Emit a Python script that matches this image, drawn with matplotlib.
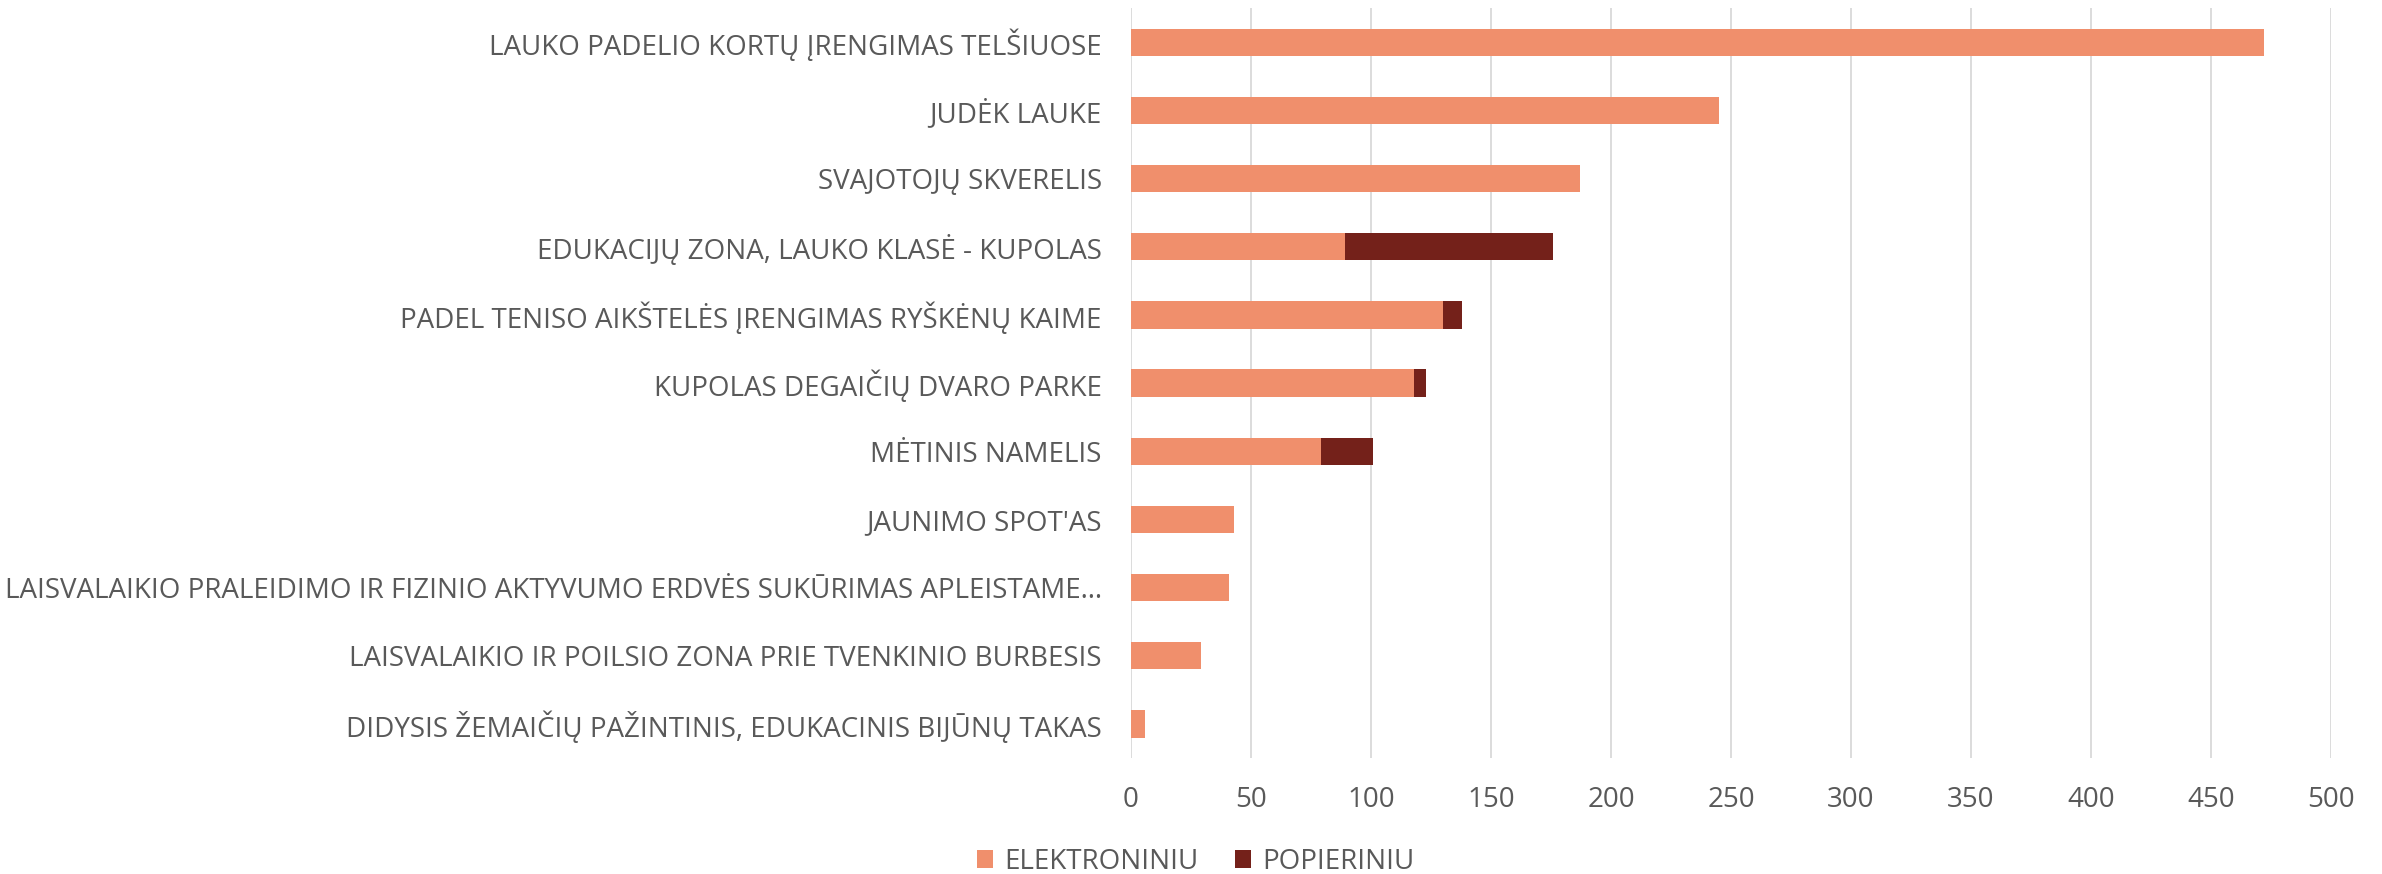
import numpy as np
import matplotlib.pyplot as plt

plt.rcParams['font.family'] = ['Open Sans', 'DejaVu Sans']

# Categories from top to bottom
projects = [
    'LAUKO PADELIO KORTŲ ĮRENGIMAS TELŠIUOSE',
    'JUDĖK LAUKE',
    'SVAJOTOJŲ SKVERELIS',
    'EDUKACIJŲ ZONA, LAUKO KLASĖ - KUPOLAS',
    'PADEL TENISO AIKŠTELĖS ĮRENGIMAS RYŠKĖNŲ KAIME',
    'KUPOLAS DEGAIČIŲ DVARO PARKE',
    'MĖTINIS NAMELIS',
    "JAUNIMO SPOT'AS",
    'LAISVALAIKIO PRALEIDIMO IR FIZINIO AKTYVUMO ERDVĖS SUKŪRIMAS APLEISTAME…',
    'LAISVALAIKIO IR POILSIO ZONA PRIE TVENKINIO BURBESIS',
    'DIDYSIS ŽEMAIČIŲ PAŽINTINIS, EDUKACINIS BIJŪNŲ TAKAS',
]
elektroniniu = [472, 245, 187, 89, 130, 118, 79, 43, 41, 29, 6]
popieriniu = [0, 0, 0, 87, 8, 5, 22, 0, 0, 0, 0]
x_ticks = [0, 50, 100, 150, 200, 250, 300, 350, 400, 450, 500]

C_EL = '#F08F6C'
C_POP = '#74211A'
TXT = '#595959'
FS = 20

fig = plt.figure(figsize=(23.82, 8.74), dpi=100)
ax = fig.add_axes([0.4748, 0.1327, 0.5038, 0.858])

y = np.arange(len(projects))
ax.barh(y, elektroniniu, height=0.4, color=C_EL, label='ELEKTRONINIU', zorder=3)
ax.barh(y, popieriniu, left=elektroniniu, height=0.4, color=C_POP, label='POPIERINIU', zorder=3)

ax.set_ylim(len(projects) - 0.5, -0.5)
ax.set_xlim(0, 500)
ax.set_yticks(y)
ax.set_yticklabels(projects)
ax.set_xticks(x_ticks)

ax.grid(axis='x', color='#D9D9D9', linewidth=1.3, zorder=0)
for s in ax.spines.values():
    s.set_visible(False)
ax.tick_params(axis='both', length=0, labelsize=FS, colors=TXT)
ax.tick_params(axis='y', pad=21)
ax.tick_params(axis='x', pad=20)

fig.legend(loc='center', bbox_to_anchor=(0.502, 0.0137), ncol=2, frameon=False,
           fontsize=FS, labelcolor=TXT, handlelength=0.6, handleheight=0.6,
           handletextpad=0.4, columnspacing=1.3)

fig.savefig('out.png', dpi=100)
